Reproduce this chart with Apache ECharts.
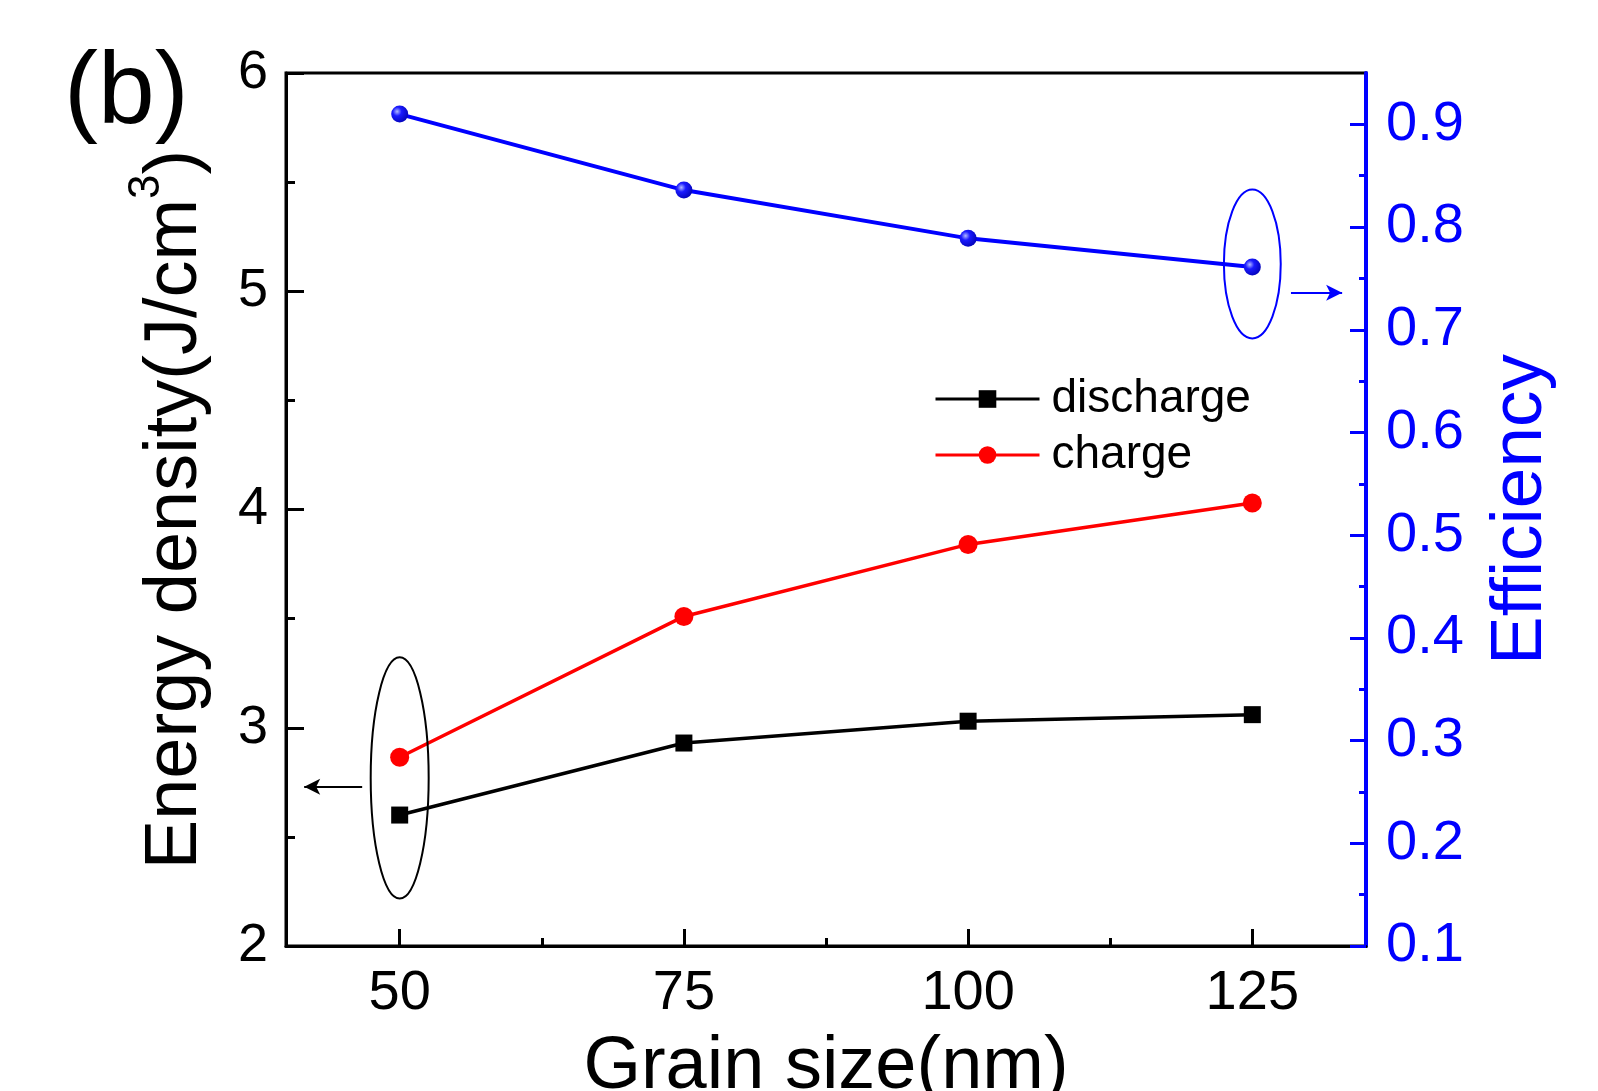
<!DOCTYPE html>
<html>
<head>
<meta charset="utf-8">
<script src="https://cdn.jsdelivr.net/npm/echarts@6/dist/echarts.min.js"></script>
<style>
  html, body { margin: 0; padding: 0; background: #fff; }
  #main { width: 1598px; height: 1091px; }
</style>
</head>
<body>
<div id="main"></div>
<script>
// data
const grainSize = [50, 75, 100, 125];
const discharge = [2.60, 2.93, 3.03, 3.06];
const charge = [2.865, 3.51, 3.84, 4.03];
const efficiency = [0.91, 0.836, 0.789, 0.761];

// tick positions
const xMajorTicks = [50, 75, 100, 125];
const xMinorTicks = [62.5, 87.5, 112.5];
const leftMajorTicks = [2, 3, 4, 5, 6];
const leftMinorTicks = [2.5, 3.5, 4.5, 5.5];
const rightMajorTicks = [0.1, 0.2, 0.3, 0.4, 0.5, 0.6, 0.7, 0.8, 0.9];
const rightMinorTicks = [0.15, 0.25, 0.35, 0.45, 0.55, 0.65, 0.75, 0.85];

// annotations (data units): ellipse centre + size, arrows
const leftEllipse = { x: 50, y: 2.77, w: 5.1, h: 1.105 };
const rightEllipse = { x: 125, y: 0.764, w: 5.0, h: 0.145 };
const leftArrow = [[46.7, 2.73], [41.6, 2.73]];
const rightArrow = [[128.4, 0.736], [132.9, 0.736]];

const FONT = 'Liberation Sans, Arial, Helvetica, sans-serif';
const BLUE = '#0000ff';

const chart = echarts.init(document.getElementById('main'));

function tickAxis(extra) {
  return Object.assign({
    type: 'value',
    splitLine: { show: false },
    axisLine: { show: false },
    axisLabel: { show: false }
  }, extra);
}

const option = {
  animation: false,
  backgroundColor: '#fff',
  textStyle: { fontFamily: FONT },
  grid: {
    left: 286, right: 232, top: 73, bottom: 145,
    outerBoundsMode: 'none',
    containLabel: false,
    show: true, borderColor: '#000', borderWidth: 3,
    backgroundColor: 'transparent'
  },
  legend: {
    orient: 'vertical',
    left: 929,
    top: 371,
    itemWidth: 104,
    itemHeight: 22,
    itemGap: 10,
    data: ['discharge', 'charge'],
    lineStyle: { width: 3 },
    textStyle: { fontSize: 46, color: '#000', fontFamily: FONT, padding: [0, 0, 0, 7] }
  },
  xAxis: [
    {
      type: 'value', min: 40, max: 135, position: 'bottom',
      splitLine: { show: false },
      axisLine: { lineStyle: { color: '#000', width: 3 } },
      axisTick: { inside: true, length: 17, customValues: xMajorTicks, lineStyle: { color: '#000', width: 3 } },
      axisLabel: { customValues: xMajorTicks, fontSize: 56, color: '#000', margin: 20, fontFamily: FONT },
      name: 'Grain size(nm)', nameLocation: 'middle', nameGap: 85,
      nameTextStyle: { fontSize: 74, color: '#000', fontFamily: FONT }
    },
    tickAxis({
      min: 40, max: 135, position: 'bottom',
      axisTick: { inside: true, length: 8, customValues: xMinorTicks, lineStyle: { color: '#000', width: 3 } }
    })
  ],
  yAxis: [
    {
      type: 'value', min: 2, max: 6, interval: 1, position: 'left',
      splitLine: { show: false },
      axisLine: { lineStyle: { color: '#000', width: 3 } },
      axisTick: { inside: true, length: 18, customValues: leftMajorTicks, lineStyle: { color: '#000', width: 3 } },
      axisLabel: { customValues: leftMajorTicks, fontSize: 54, color: '#000', margin: 18, fontFamily: FONT },
      name: '{a|Energy density(J/cm}{s|3}{a|)}', nameLocation: 'middle', nameGap: 73,
      nameTextStyle: {
        fontSize: 74, color: '#000', fontFamily: FONT,
        rich: {
          a: { fontSize: 74, lineHeight: 78, color: '#000', fontFamily: FONT, verticalAlign: 'bottom' },
          s: { fontSize: 44, lineHeight: 88, color: '#000', fontFamily: FONT, verticalAlign: 'top' }
        }
      }
    },
    {
      type: 'value', min: 0.1, max: 0.95, position: 'right',
      splitLine: { show: false },
      axisLine: { lineStyle: { color: BLUE, width: 4 } },
      axisTick: { inside: true, length: 16, customValues: rightMajorTicks, lineStyle: { color: BLUE, width: 3 } },
      axisLabel: { customValues: rightMajorTicks, fontSize: 56, color: BLUE, margin: 20, fontFamily: FONT,
        formatter: function (v) { return v.toFixed(1); } },
      name: 'Efficiency', nameLocation: 'middle', nameGap: 118,
      nameTextStyle: { fontSize: 73, color: BLUE, fontFamily: FONT }
    },
    tickAxis({
      min: 2, max: 6, position: 'left',
      axisTick: { inside: true, length: 9, customValues: leftMinorTicks, lineStyle: { color: '#000', width: 3 } }
    }),
    tickAxis({
      min: 0.1, max: 0.95, position: 'right',
      axisTick: { inside: true, length: 7, customValues: rightMinorTicks, lineStyle: { color: BLUE, width: 3 } }
    })
  ],
  series: [
    {
      name: 'discharge', type: 'line', xAxisIndex: 0, yAxisIndex: 0,
      data: grainSize.map((x, i) => [x, discharge[i]]),
      symbol: 'rect', symbolSize: 17,
      lineStyle: { color: '#000', width: 3.5 },
      itemStyle: { color: '#000' },
      markLine: {
        silent: true, symbol: ['none', 'arrow'], symbolSize: [12, 16],
        label: { show: false },
        lineStyle: { color: '#000', width: 2, type: 'solid' },
        data: [[{ coord: leftArrow[0] }, { coord: leftArrow[1] }]]
      }
    },
    {
      name: 'charge', type: 'line', xAxisIndex: 0, yAxisIndex: 0,
      data: grainSize.map((x, i) => [x, charge[i]]),
      symbol: 'circle', symbolSize: 19,
      lineStyle: { color: '#ff0000', width: 3.5 },
      itemStyle: { color: '#ff0000' }
    },
    {
      name: 'efficiency', type: 'line', xAxisIndex: 0, yAxisIndex: 1,
      data: grainSize.map((x, i) => [x, efficiency[i]]),
      symbol: 'circle', symbolSize: 17,
      lineStyle: { color: BLUE, width: 4 },
      itemStyle: {
        color: {
          type: 'radial', x: 0.35, y: 0.35, r: 0.75,
          colorStops: [
            { offset: 0, color: '#b0b8ff' },
            { offset: 0.35, color: '#1a1aff' },
            { offset: 1, color: '#0000b0' }
          ]
        }
      },
      markLine: {
        silent: true, symbol: ['none', 'arrow'], symbolSize: [12, 16],
        label: { show: false },
        lineStyle: { color: BLUE, width: 2, type: 'solid' },
        data: [[{ coord: rightArrow[0] }, { coord: rightArrow[1] }]]
      }
    }
  ]
};

chart.setOption(option);

// ellipses placed through the axes' own scales
function ellipseShape(e, yIdx) {
  const finder = { xAxisIndex: 0, yAxisIndex: yIdx };
  const c = chart.convertToPixel(finder, [e.x, e.y]);
  const p = chart.convertToPixel(finder, [e.x + e.w / 2, e.y + e.h / 2]);
  return { cx: c[0], cy: c[1], rx: Math.abs(p[0] - c[0]), ry: Math.abs(c[1] - p[1]) };
}

chart.setOption({
  graphic: [
    {
      type: 'ellipse', shape: ellipseShape(leftEllipse, 0), silent: true, z: 10,
      style: { fill: 'none', stroke: '#000', lineWidth: 2 }
    },
    {
      type: 'ellipse', shape: ellipseShape(rightEllipse, 1), silent: true, z: 10,
      style: { fill: 'none', stroke: BLUE, lineWidth: 2 }
    },
    {
      type: 'text', left: 64, top: 44, silent: true,
      style: { text: '(b)', fontSize: 102, fontFamily: FONT, fill: '#000' }
    }
  ]
});
</script>
</body>
</html>
